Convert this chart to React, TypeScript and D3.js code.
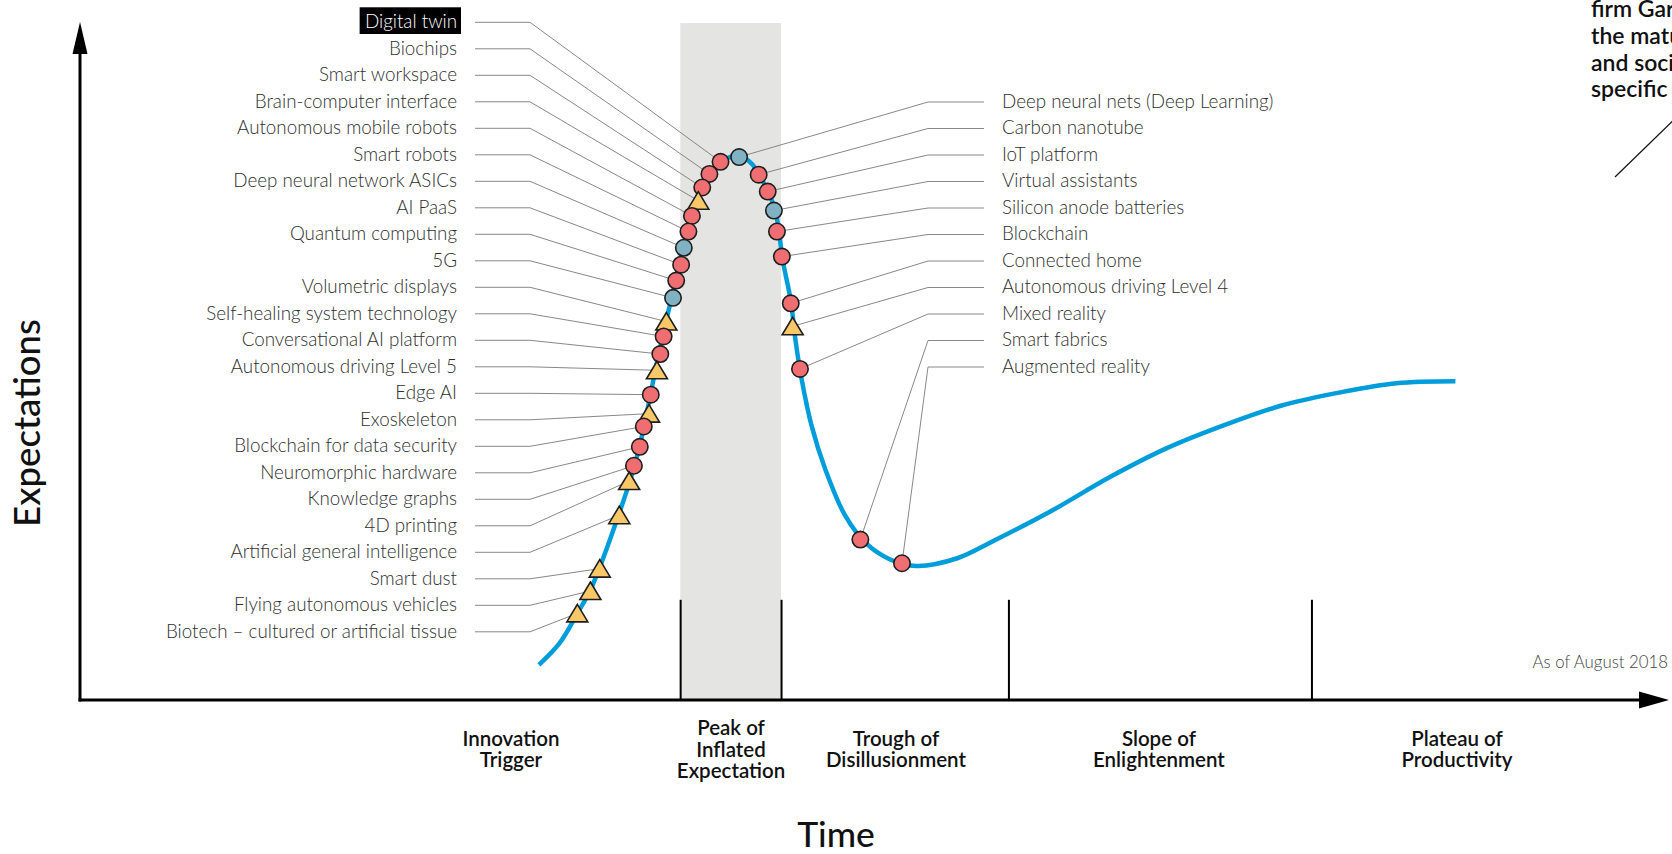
import React, { useEffect, useRef } from 'react';
import * as d3 from 'd3';

const W = 1672;
const H = 854;

// Hype-cycle curve (time %, expectations %)
const curveTime = [28.88, 30.18, 31.28, 32.09, 32.69, 33.89, 34.6, 35.2, 35.7, 36.4, 36.9, 37.4, 37.91, 38.51, 39.11, 39.81, 40.62, 41.52, 42.32, 43.02, 43.72, 44.02, 44.23, 44.73, 45.03, 45.43, 46.03, 46.93, 48.14, 49.44, 50.95, 52.65, 55.16, 57.57, 61.18, 64.79, 68.4, 72.01, 75.62, 79.23, 82.85, 86.56];
const curveExp = [5.2, 8.4, 12.7, 16.1, 19.5, 27.3, 32.3, 37.3, 42.8, 50.9, 56.1, 61.2, 66.7, 71.7, 75.8, 78.2, 79.9, 80.4, 79.1, 76.4, 72.6, 68.6, 64.9, 59.0, 53.1, 47.2, 40.6, 33.9, 27.3, 23.2, 20.8, 19.8, 20.9, 23.6, 28.0, 32.9, 37.2, 40.6, 43.5, 45.4, 46.8, 47.1];

// Technologies labelled on the left (rising slope)
const leftNames = [
  'Digital twin', 'Biochips', 'Smart workspace', 'Brain-computer interface',
  'Autonomous mobile robots', 'Smart robots', 'Deep neural network ASICs', 'AI PaaS',
  'Quantum computing', '5G', 'Volumetric displays', 'Self-healing system technology',
  'Conversational AI platform', 'Autonomous driving Level 5', 'Edge AI', 'Exoskeleton',
  'Blockchain for data security', 'Neuromorphic hardware', 'Knowledge graphs', '4D printing',
  'Artificial general intelligence', 'Smart dust', 'Flying autonomous vehicles',
  'Biotech – cultured or artificial tissue',
];
const leftTime = [40.31, 39.61, 39.16, 38.91, 38.51, 38.29, 38.0, 37.83, 37.52, 37.32, 36.9, 36.73, 36.52, 36.31, 35.92, 35.81, 35.48, 35.23, 34.86, 34.56, 33.94, 32.71, 32.12, 31.3];
const leftExp = [79.5, 77.7, 75.7, 73.75, 71.5, 69.2, 66.8, 64.3, 61.95, 59.4, 55.9, 53.7, 51.1, 48.7, 45.1, 42.3, 40.4, 37.4, 34.6, 32.35, 27.3, 19.4, 16.1, 12.8];
const leftKind = ['r', 'r', 'r', 't', 'r', 'r', 'b', 'r', 'r', 'b', 't', 'r', 'r', 't', 'r', 't', 'r', 'r', 'r', 't', 't', 't', 't', 't'];

// Technologies labelled on the right (falling slope and trough)
const rightNames = [
  'Deep neural nets (Deep Learning)', 'Carbon nanotube', 'IoT platform', 'Virtual assistants',
  'Silicon anode batteries', 'Blockchain', 'Connected home', 'Autonomous driving Level 4',
  'Mixed reality', 'Smart fabrics', 'Augmented reality',
];
const rightTime = [41.48, 42.71, 43.28, 43.67, 43.86, 44.17, 44.73, 44.85, 45.31, 49.11, 51.73];
const rightExp = [80.2, 77.6, 75.1, 72.3, 69.2, 65.5, 58.6, 55.2, 48.9, 23.7, 20.2];
const rightKind = ['b', 'r', 'r', 'b', 'r', 'r', 'r', 't', 'r', 'r', 'r'];

// Phases of the cycle
const phaseNames = [
  ['Innovation', 'Trigger'],
  ['Peak of', 'Inflated', 'Expectation'],
  ['Trough of', 'Disillusionment'],
  ['Slope of', 'Enlightenment'],
  ['Plateau of', 'Productivity'],
];
const phaseCenters = [27.12, 40.97, 51.35, 67.9, 86.66];
const phaseBounds = [37.8, 44.15, 58.46, 77.53];
const peakBand = [37.78, 44.12];

const noteLines = ['firm Gartner, represents', 'the maturity, adoption', 'and social application of', 'specific technologies.'];

const highlighted = 'Digital twin';

const COLORS = { r: '#ef6e72', b: '#80b2c3', t: '#f8c868' } as Record<string, string>;

export default function App() {
  const ref = useRef<SVGSVGElement>(null);

  useEffect(() => {
    const svg = d3.select(ref.current);
    svg.selectAll('*').remove();

    const x = d3.scaleLinear().domain([0, 100]).range([80, 1669]);
    const y = d3.scaleLinear().domain([0, 100]).range([700, 23]);

    const font = 'Lato, "Open Sans", sans-serif';

    // Peak band
    svg.append('rect')
      .attr('x', x(peakBand[0]))
      .attr('y', y(100))
      .attr('width', x(peakBand[1]) - x(peakBand[0]))
      .attr('height', y(0) - y(100))
      .attr('fill', '#e4e4e3');

    // Phase separators
    svg.selectAll('line.phase').data(phaseBounds).enter().append('line')
      .attr('x1', (d) => x(d)).attr('x2', (d) => x(d))
      .attr('y1', y(14.8)).attr('y2', y(0))
      .attr('stroke', '#000').attr('stroke-width', 2);

    // Axes
    svg.append('line').attr('x1', x(0)).attr('x2', x(0)).attr('y1', y(0) + 1.5).attr('y2', y(100) + 25)
      .attr('stroke', '#000').attr('stroke-width', 3);
    svg.append('path')
      .attr('d', `M${x(0)},${y(100) - 1} L${x(0) + 7.5},${y(100) + 31} L${x(0) - 7.5},${y(100) + 31} Z`)
      .attr('fill', '#000');
    svg.append('line').attr('x1', x(0) - 1.5).attr('x2', x(100) - 25).attr('y1', y(0)).attr('y2', y(0))
      .attr('stroke', '#000').attr('stroke-width', 3);
    svg.append('path')
      .attr('d', `M${x(100)},${y(0)} L${x(100) - 30},${y(0) - 8.5} L${x(100) - 30},${y(0) + 8.5} Z`)
      .attr('fill', '#000');

    // Curve
    const pts = curveTime.map((t, i) => [t, curveExp[i]] as [number, number]);
    const line = d3.line<[number, number]>()
      .x((d) => x(d[0])).y((d) => y(d[1]))
      .curve(d3.curveCatmullRom.alpha(0.5));
    svg.append('path').attr('d', line(pts) as string)
      .attr('fill', 'none').attr('stroke', '#009ddb').attr('stroke-width', 4.5)
      .attr('stroke-linecap', 'butt');

    const rowStep = 26.5;
    const rowTop = 22.3;

    const leftTextRight = 457;
    const leftLineStart = 475;
    const leftLineElbow = 530;
    const rightTextLeft = 1002;
    const rightLineStart = 984;
    const rightLineElbow = 928;

    const gLines = svg.append('g').attr('fill', 'none').attr('stroke', '#7a7a7a').attr('stroke-width', 0.9);
    const gMarks = svg.append('g');
    const gText = svg.append('g').attr('font-family', font).attr('font-weight', 300)
      .attr('font-size', 18.8).attr('fill', '#2e2e2e');

    const marker = (t: number, e: number, k: string) => {
      const cx = x(t), cy = y(e);
      if (k === 't') {
        gMarks.append('path')
          .attr('d', `M${cx},${cy - 9} L${cx + 10.5},${cy + 8.5} L${cx - 10.5},${cy + 8.5} Z`)
          .attr('fill', COLORS.t).attr('stroke', '#1e1e1e').attr('stroke-width', 1.6)
          .attr('stroke-linejoin', 'miter');
      } else {
        gMarks.append('circle').attr('cx', cx).attr('cy', cy).attr('r', 8.2)
          .attr('fill', COLORS[k]).attr('stroke', '#1e1e1e').attr('stroke-width', 1.6);
      }
    };

    leftNames.forEach((name, i) => {
      const ly = rowTop + i * rowStep;
      gLines.append('polyline')
        .attr('points', `${leftLineStart},${ly} ${leftLineElbow},${ly} ${x(leftTime[i])},${y(leftExp[i])}`);
      const txt = gText.append('text')
        .attr('x', leftTextRight).attr('y', ly - 1.8)
        .attr('text-anchor', 'end').attr('dominant-baseline', 'central')
        .text(name);
      if (name === highlighted) {
        txt.attr('fill', '#fff');
        const bb = (txt.node() as SVGTextElement).getBBox();
        gText.insert('rect', 'text')
          .attr('x', bb.x - 5.3).attr('width', bb.width + 9.3)
          .attr('y', ly - 15).attr('height', 26.7)
          .attr('fill', '#000');
      }
      marker(leftTime[i], leftExp[i], leftKind[i]);
    });

    rightNames.forEach((name, i) => {
      const ly = rowTop + (i + 3) * rowStep + 0.2;
      gLines.append('polyline')
        .attr('points', `${rightLineStart},${ly} ${rightLineElbow},${ly} ${x(rightTime[i])},${y(rightExp[i])}`);
      gText.append('text')
        .attr('x', rightTextLeft).attr('y', ly - 1.8)
        .attr('text-anchor', 'start').attr('dominant-baseline', 'central')
        .text(name);
      marker(rightTime[i], rightExp[i], rightKind[i]);
    });

    // Phase labels
    const lh = 21.7;
    phaseNames.forEach((lines, i) => {
      const startY = 748.5 - ((lines.length - 1) * lh) / 2;
      lines.forEach((ln, j) => {
        svg.append('text')
          .attr('x', x(phaseCenters[i])).attr('y', startY + j * lh)
          .attr('text-anchor', 'middle').attr('dominant-baseline', 'central')
          .attr('font-family', font).attr('font-weight', 600).attr('font-size', 20.5)
          .attr('fill', '#111').text(ln);
      });
    });

    // Axis titles
    svg.append('text')
      .attr('transform', `translate(40,423) rotate(-90)`)
      .attr('text-anchor', 'middle')
      .attr('font-family', font).attr('font-weight', 500).attr('font-size', 36.5)
      .attr('fill', '#111').text('Expectations');
    svg.append('text')
      .attr('x', 836).attr('y', 846.5)
      .attr('text-anchor', 'middle')
      .attr('font-family', font).attr('font-weight', 500).attr('font-size', 35.5)
      .attr('fill', '#111').text('Time');

    svg.append('text')
      .attr('x', 1668).attr('y', 661)
      .attr('text-anchor', 'end').attr('dominant-baseline', 'central')
      .attr('font-family', font).attr('font-weight', 300).attr('font-size', 16.8)
      .attr('fill', '#444').text('As of August 2018');

    // Cut-off note at top right (continues beyond the frame, as in the source)
    noteLines.forEach((ln, i) => {
      svg.append('text')
        .attr('x', 1591).attr('y', 8.3 + i * 26.7)
        .attr('dominant-baseline', 'central')
        .attr('font-family', font).attr('font-weight', 600).attr('font-size', 23)
        .attr('fill', '#111').text(ln);
    });
    svg.append('line')
      .attr('x1', 1615).attr('y1', 177).attr('x2', 1700).attr('y2', 94.5)
      .attr('stroke', '#111').attr('stroke-width', 1.2);
  }, []);

  return (
    <svg
      ref={ref}
      width={W}
      height={H}
      viewBox={`0 0 ${W} ${H}`}
      style={{ position: 'absolute', left: 0, top: 0, background: '#fff', overflow: 'hidden' }}
    />
  );
}
